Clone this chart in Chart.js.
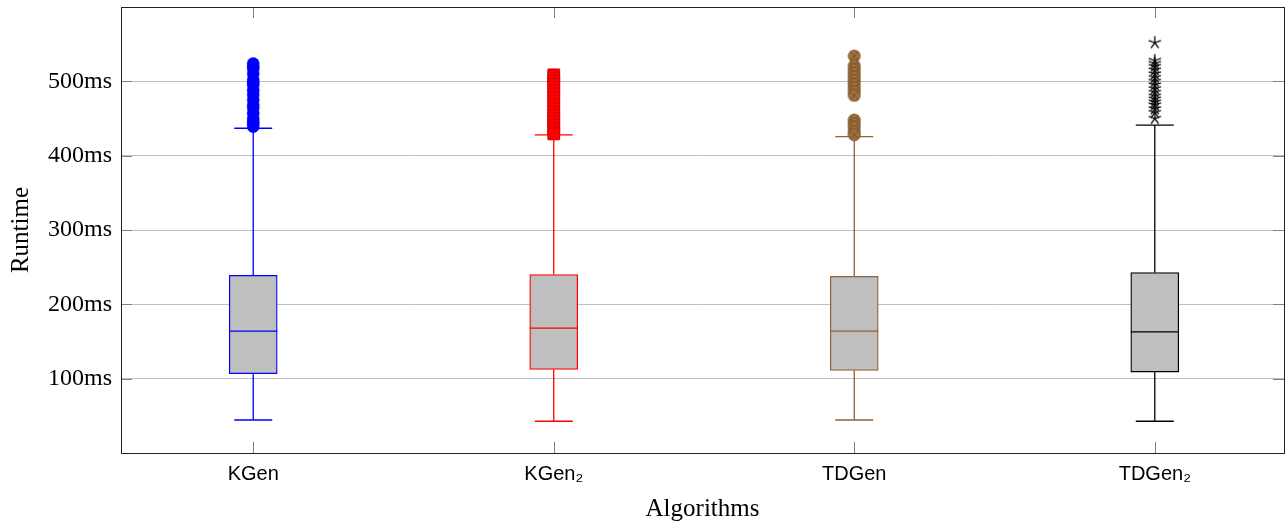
<!DOCTYPE html>
<html><head><meta charset="utf-8">
<script src="https://cdn.jsdelivr.net/npm/chart.js@4/dist/chart.umd.min.js"></script>
<style>html,body{margin:0;padding:0;background:#fff}canvas{display:block}</style>
</head><body>
<canvas id="c" width="1286" height="525"></canvas>
<script>
// ---- data ----
const categories = ['KGen', 'KGen₂', 'TDGen', 'TDGen₂'];
const lowerWhisker = [44.4, 42.7, 44.4, 42.7];
const q1 = [106.7, 112.5, 111.0, 108.9];
const median = [163.9, 168.0, 164.0, 163.0];
const q3 = [239.0, 240.0, 237.7, 242.7];
const upperWhisker = [436.9, 428.0, 425.6, 441.0];
const outliersKGen = [524, 520, 517, 510, 502, 498, 495, 488, 482, 475, 468, 464, 457, 450, 446, 443, 439];
const outliersKGen2 = [509, 507, 504, 500, 496, 492, 487, 483, 478, 473, 468, 463, 458, 454, 450, 446, 441, 437, 434, 431, 429];
const outliersTDGen = [534, 521, 516, 511, 506, 501, 496, 491, 486, 481, 448, 443, 438, 432, 428];
const outliersTDGen2 = [552, 528, 524, 520, 515, 510, 505, 500, 495, 490, 485, 480, 476, 472, 468, 463, 458, 450];
const yTickValues = [100, 200, 300, 400, 500];

// ---- styles ----
const colors = ['#0000ff', '#ff0000', '#8f6238', '#000000'];
const serif = '"Liberation Serif", "DejaVu Serif", serif';
const sans = '"Liberation Sans", "DejaVu Sans", sans-serif';

function otimesCanvas() {
  const c = document.createElement('canvas'); c.width = 14; c.height = 14;
  const g = c.getContext('2d');
  g.beginPath(); g.arc(7, 7, 6, 0, Math.PI * 2);
  g.fillStyle = '#a0703d'; g.fill();
  g.lineWidth = 0.8; g.strokeStyle = '#6e4a24'; g.stroke();
  g.beginPath(); const d = 4.2;
  g.moveTo(7 - d, 7 - d); g.lineTo(7 + d, 7 + d);
  g.moveTo(7 + d, 7 - d); g.lineTo(7 - d, 7 + d);
  g.stroke();
  return c;
}
function starCanvas() {
  const c = document.createElement('canvas'); c.width = 16; c.height = 16;
  const g = c.getContext('2d');
  g.strokeStyle = '#000'; g.lineWidth = 1.3;
  g.beginPath();
  for (let k = 0; k < 5; k++) {
    const a = -Math.PI / 2 + k * 2 * Math.PI / 5;
    g.moveTo(8, 8); g.lineTo(8 + 6.5 * Math.cos(a), 8 + 6.5 * Math.sin(a));
  }
  g.stroke();
  return c;
}

const boxPlugin = {
  id: 'boxParts',
  afterDatasetDraw(chart, args) {
    if (args.index !== 0) return;
    const ctx = chart.ctx, x = chart.scales.x, y = chart.scales.y;
    ctx.save();
    ctx.lineWidth = 1.3;
    categories.forEach((c, i) => {
      const cx = x.getPixelForValue(i + 1);
      const half = 24, cap = 19;
      ctx.strokeStyle = colors[i];
      ctx.beginPath();
      ctx.moveTo(cx - half, y.getPixelForValue(median[i])); ctx.lineTo(cx + half, y.getPixelForValue(median[i]));
      ctx.moveTo(cx, y.getPixelForValue(q3[i])); ctx.lineTo(cx, y.getPixelForValue(upperWhisker[i]));
      ctx.moveTo(cx, y.getPixelForValue(q1[i])); ctx.lineTo(cx, y.getPixelForValue(lowerWhisker[i]));
      ctx.moveTo(cx - cap, y.getPixelForValue(upperWhisker[i])); ctx.lineTo(cx + cap, y.getPixelForValue(upperWhisker[i]));
      ctx.moveTo(cx - cap, y.getPixelForValue(lowerWhisker[i])); ctx.lineTo(cx + cap, y.getPixelForValue(lowerWhisker[i]));
      ctx.stroke();
    });
    ctx.restore();
  },
  afterDraw(chart) {
    const ctx = chart.ctx, a = chart.chartArea, x = chart.scales.x, y = chart.scales.y;
    ctx.save();
    ctx.strokeStyle = '#808080'; ctx.lineWidth = 1;
    ctx.beginPath();
    yTickValues.forEach(v => {
      const py = Math.round(y.getPixelForValue(v)) + 0.5;
      ctx.moveTo(a.left, py); ctx.lineTo(a.left + 11, py);
      ctx.moveTo(a.right, py); ctx.lineTo(a.right - 11, py);
    });
    categories.forEach((c, i) => {
      const px = Math.round(x.getPixelForValue(i + 1)) + 0.5;
      ctx.moveTo(px, a.bottom); ctx.lineTo(px, a.bottom - 11);
      ctx.moveTo(px, a.top); ctx.lineTo(px, a.top + 11);
    });
    ctx.stroke();
    ctx.strokeStyle = '#222'; ctx.lineWidth = 1;
    ctx.strokeRect(Math.round(a.left) + 0.5, Math.round(a.top) + 0.5, Math.round(a.right - a.left), Math.round(a.bottom - a.top));
    ctx.restore();
  }
};

const outlierSets = [outliersKGen, outliersKGen2, outliersTDGen, outliersTDGen2];
const outlierStyles = [
  { pointStyle: 'circle', pointRadius: 6, backgroundColor: '#0000ff', borderColor: '#0000ff', borderWidth: 0.5 },
  { pointStyle: 'rect', pointRadius: 8.3, backgroundColor: '#ff0000', borderColor: '#c80000', borderWidth: 0.6 },
  { pointStyle: otimesCanvas(), pointRadius: 6, backgroundColor: '#a0703d', borderColor: '#6e4a24', borderWidth: 0 },
  { pointStyle: starCanvas(), pointRadius: 6, backgroundColor: '#000', borderColor: '#000', borderWidth: 0 }
];

const datasets = [{
  type: 'bar',
  data: categories.map((c, i) => ({ x: i + 1, y: [q1[i], q3[i]] })),
  backgroundColor: '#bfbfbf',
  borderColor: colors,
  borderWidth: 1.3,
  borderSkipped: false,
  barThickness: 48
}];
outlierSets.forEach((set, i) => {
  datasets.push(Object.assign({
    type: 'scatter',
    data: set.map(v => ({ x: i + 1, y: v })),
    pointHoverRadius: 6
  }, outlierStyles[i]));
});

new Chart(document.getElementById('c'), {
  type: 'bar',
  data: { datasets },
  plugins: [boxPlugin],
  options: {
    responsive: false,
    animation: false,
    devicePixelRatio: 1,
    layout: { autoPadding: false, padding: { left: 0, top: 7, right: 2, bottom: 0 } },
    plugins: { legend: { display: false }, tooltip: { enabled: false } },
    scales: {
      x: {
        type: 'linear', min: 0.56, max: 4.43, offset: false,
        afterBuildTicks: s => { s.ticks = categories.map((c, i) => ({ value: i + 1 })); },
        afterFit: s => { s.height = 72; s.paddingLeft = 0; s.paddingRight = 0; },
        ticks: {
          callback: v => categories[Math.round(v) - 1],
          color: '#000', font: { family: sans, size: 20 }, padding: 9, maxRotation: 0, autoSkip: false
        },
        grid: { display: false, drawTicks: false },
        border: { display: false },
        title: { display: true, text: 'Algorithms', color: '#000', font: { family: serif, size: 25 }, padding: { top: 0, bottom: 1 } }
      },
      y: {
        min: 0, max: 600,
        afterBuildTicks: s => { s.ticks = yTickValues.map(v => ({ value: v })); },
        afterFit: s => { s.width = 121; s.paddingTop = 0; s.paddingBottom = 0; },
        ticks: {
          callback: v => v + 'ms',
          color: '#000', font: { family: serif, size: 24 }, padding: 9
        },
        grid: { color: '#bfbfbf', lineWidth: 1, drawTicks: false },
        border: { display: false },
        title: { display: true, text: 'Runtime', color: '#000', font: { family: serif, size: 25 }, padding: { top: 6, bottom: 0 } }
      }
    }
  }
});
</script>
</body></html>
